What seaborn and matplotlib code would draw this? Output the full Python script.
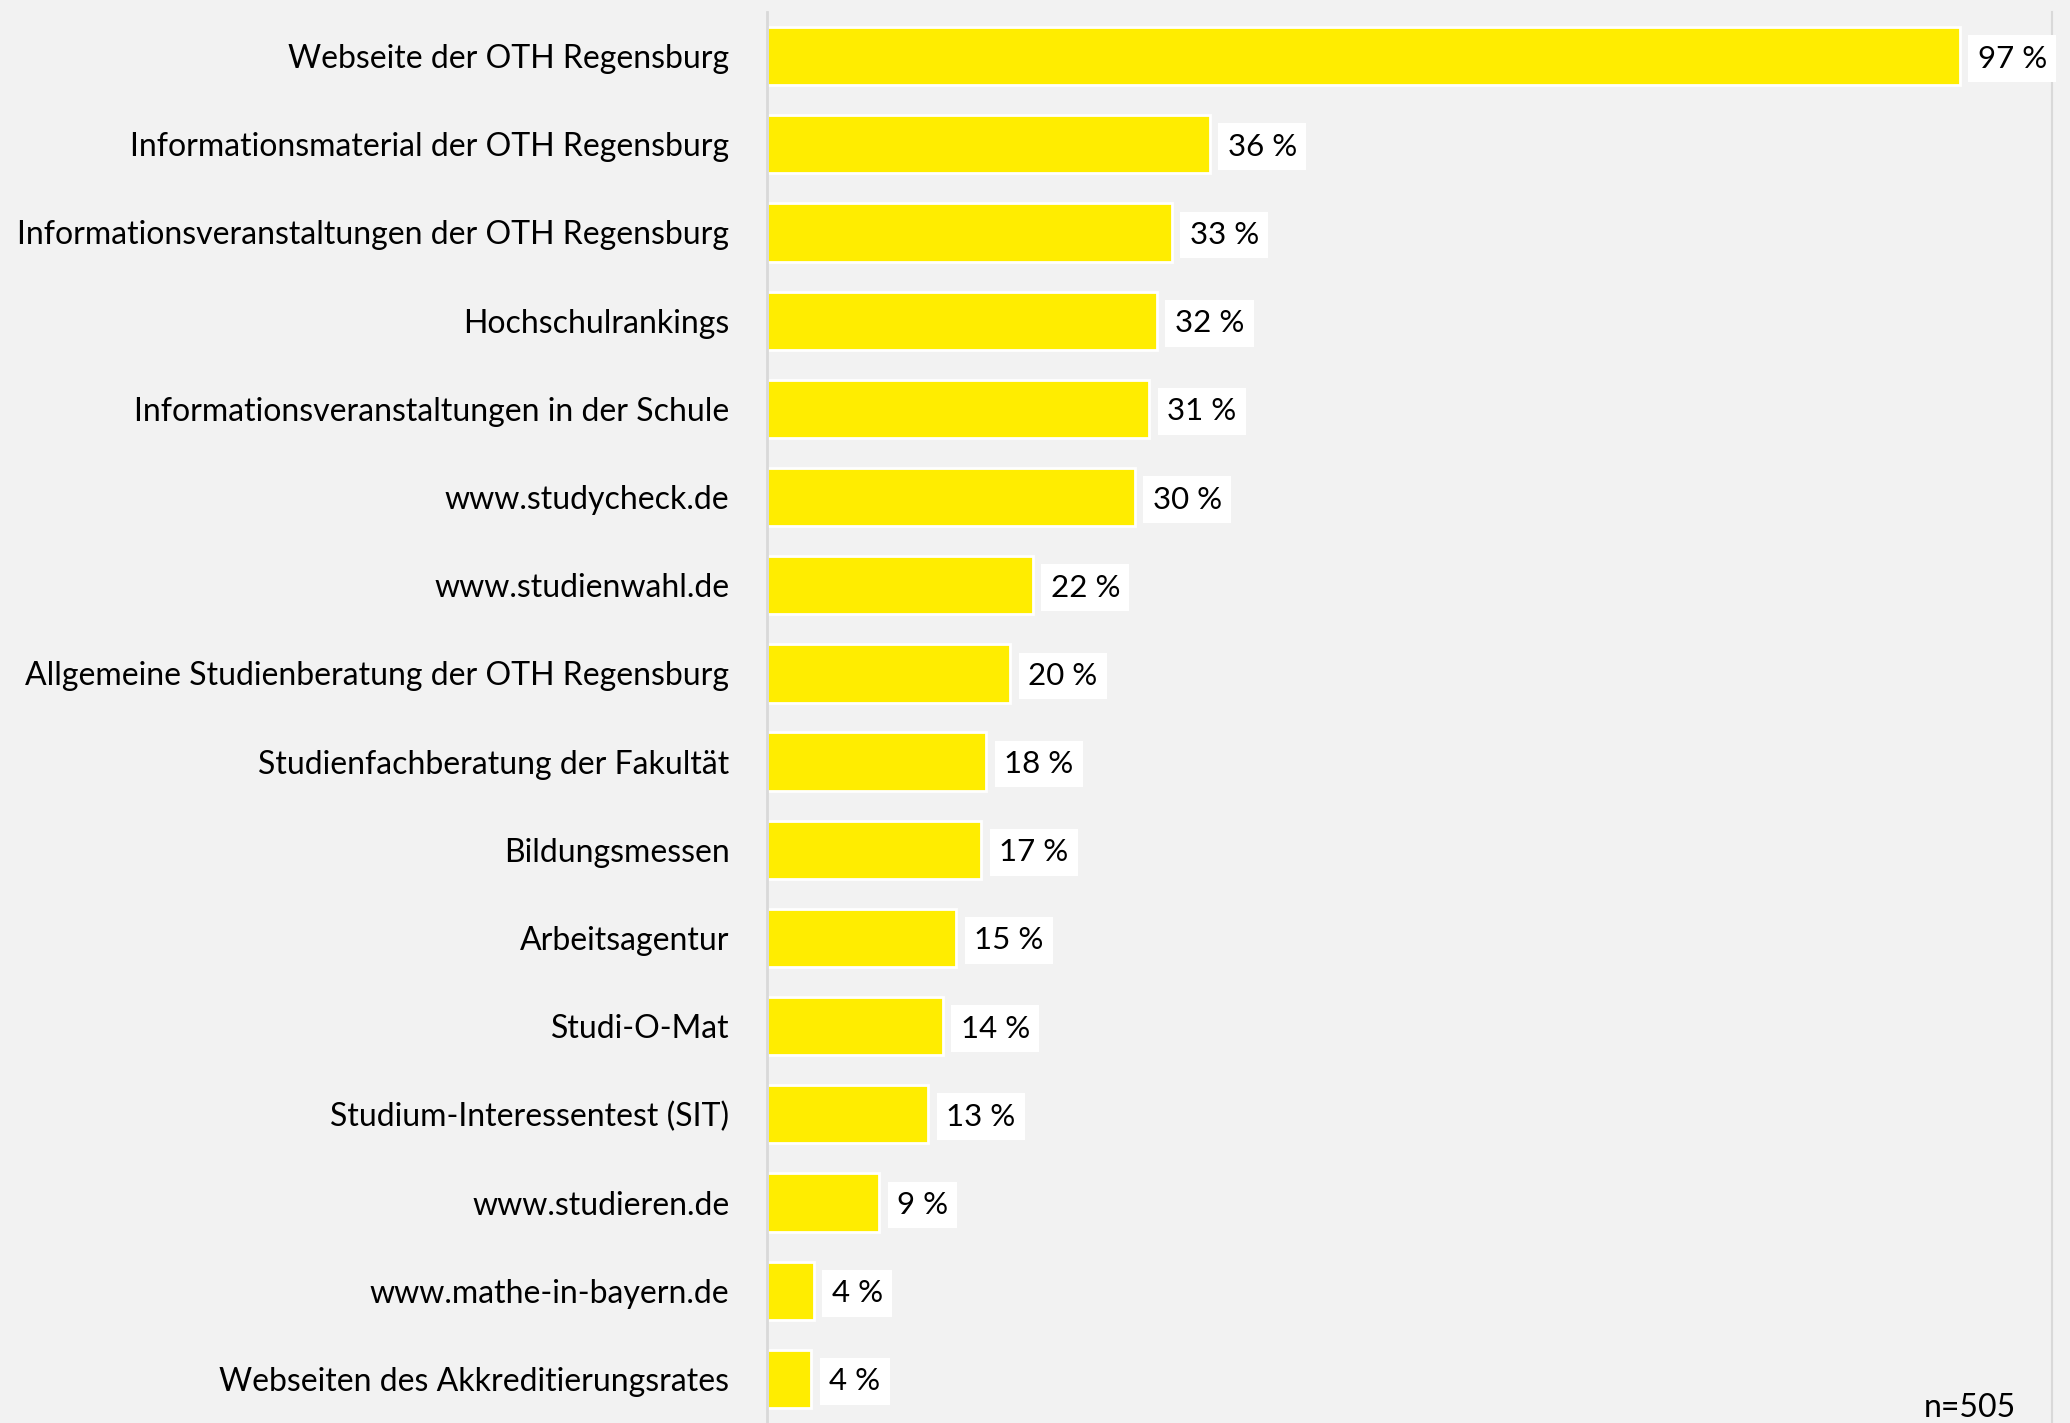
import matplotlib
matplotlib.use("Agg")
import matplotlib.pyplot as plt
import seaborn as sns
import pandas as pd
import numpy as np

# ---------------------------------------------------------
# Data (share of respondents, n=505)
# ---------------------------------------------------------
sources = [
    "Webseite der OTH Regensburg",
    "Informationsmaterial der OTH Regensburg",
    "Informationsveranstaltungen der OTH Regensburg",
    "Hochschulrankings",
    "Informationsveranstaltungen in der Schule",
    "www.studycheck.de",
    "www.studienwahl.de",
    "Allgemeine Studienberatung der OTH Regensburg",
    "Studienfachberatung der Fakultät",
    "Bildungsmessen",
    "Arbeitsagentur",
    "Studi-O-Mat",
    "Studium-Interessentest (SIT)",
    "www.studieren.de",
    "www.mathe-in-bayern.de",
    "Webseiten des Akkreditierungsrates",
]
percent = [97.0, 36.0, 32.9, 31.7, 31.1, 29.9, 21.6, 19.8, 17.8, 17.4, 15.4, 14.3, 13.1, 9.1, 3.8, 3.6]
sample_note = "n=505"

df = pd.DataFrame({"source": sources, "percent": percent})

# ---------------------------------------------------------
# Plot
# ---------------------------------------------------------
sns.set_style("white")
plt.rcParams["font.family"] = ["Lato", "DejaVu Sans"]
plt.rcParams["text.color"] = "black"

bg = "#f2f2f2"
fs = 23
fig = plt.figure(figsize=(20.7, 14.23), dpi=100, facecolor=bg)
ax = fig.add_axes([0.3705, 0.0, 0.9913 - 0.3705, 0.99157])
ax.set_facecolor(bg)

sns.barplot(
    data=df, x="percent", y="source", orient="h",
    color="#ffed00", saturation=1, width=0.66,
    edgecolor="white", linewidth=2, ax=ax,
)

ax.set_xlim(0, 104.5)
ax.set_ylim(15.41, -0.5)
ax.set_xlabel("")
ax.set_ylabel("")
ax.set_xticks([])

# value labels in white boxes
labels = ax.bar_label(
    ax.containers[0],
    labels=[f"{round(v)} %" for v in percent],
    padding=13, fontsize=fs - 0.5, color="black",
    bbox=dict(boxstyle="square,pad=0.3", facecolor="white", edgecolor="none"),
)
for t in labels:
    t.set_verticalalignment("center_baseline")

# tick marks between categories, labels without marks
ax.tick_params(axis="y", which="major", length=0, pad=27, labelsize=fs, labelcolor="black")
ax.set_yticks(np.arange(-0.5, len(sources), 1), minor=True)
ax.tick_params(axis="y", which="minor", length=7, width=2, color="#d9d9d9", direction="out")

for side in ["top", "bottom"]:
    ax.spines[side].set_visible(False)
ax.spines["left"].set_color("#d9d9d9")
ax.spines["left"].set_linewidth(2)
ax.spines["right"].set_color("#d9d9d9")
ax.spines["right"].set_linewidth(1.5)

fig.text(0.974, 0.004, sample_note, ha="right", va="baseline", fontsize=fs, color="black")

plt.savefig("out.png", dpi=100, facecolor=bg)
